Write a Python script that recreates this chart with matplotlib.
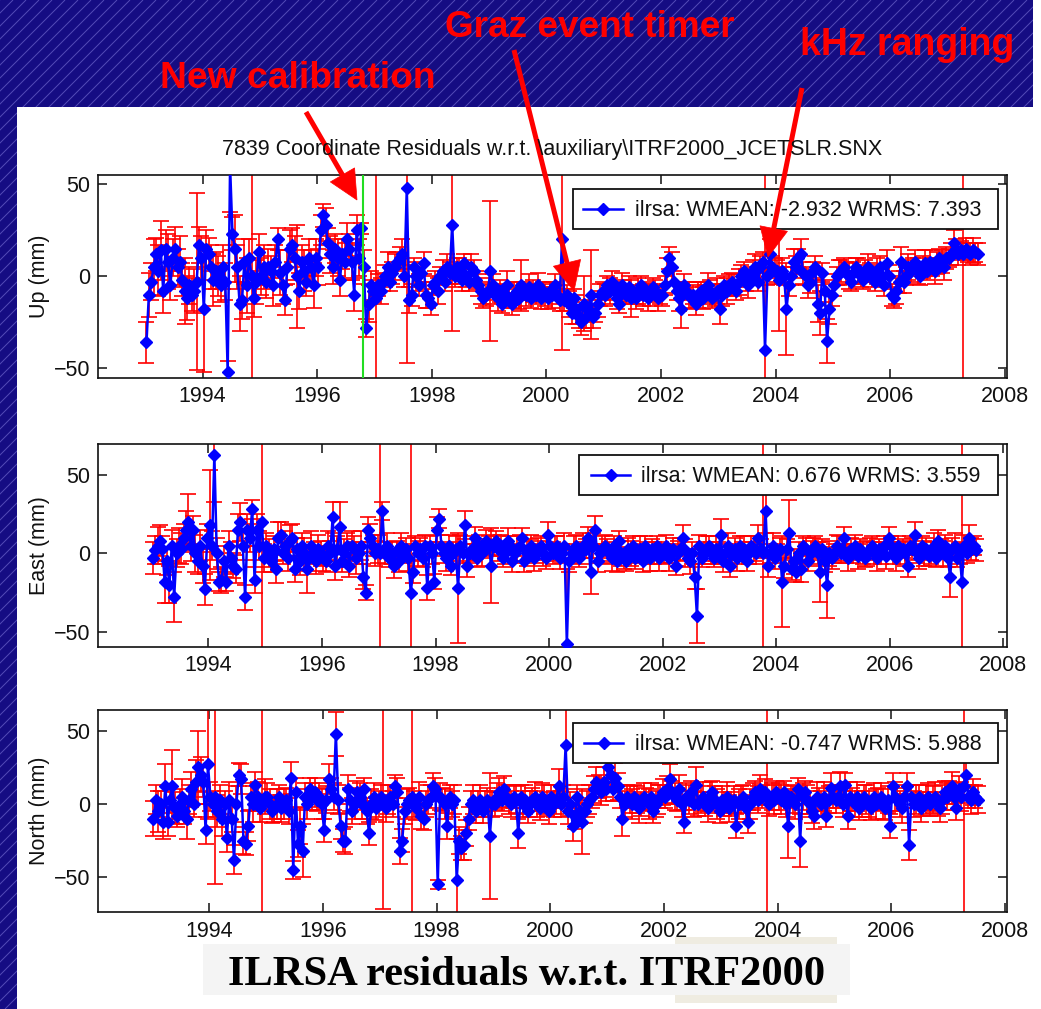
import numpy as np
import matplotlib
matplotlib.use('Agg')
import matplotlib.pyplot as plt
from matplotlib.collections import LineCollection
from matplotlib.patches import Rectangle, Polygon

plt.rcParams['font.family'] = ['Liberation Sans', 'DejaVu Sans']

W, H = 1041, 1009   # picture size in pixels, used for the overlay coordinates

# residuals (mm), sampled twice a month, one row per year
years = [1993, 1994, 1995, 1996, 1997, 1998, 1999, 2000, 2001, 2002, 2003, 2004, 2005, 2006, 2007]

up_vals = [
    [-36, -10, -3, 5, 12, 3, 14, -8, 15, 8, -5, 10, 15, 5, 8, -2, -8, -12, -5, -10, -8, -3, 17, 10],
    [-18, 15, 12, 5, -2, 3, 0, -5, 5, -3, -52, 60, 23, 15, 5, -15, -13, 8, -5, 10, 0, -12, -3, 13],
    [0, 5, -3, 5, 3, -5, 8, 20, 2, -5, -13, 5, 15, 17, 10, 0, -8, 8, 3, -3, 10, 5, -5, 10],
    [5, 25, 33, 28, 18, 12, 5, 15, 10, -2, 12, 8, 20, 15, 8, -10, 25, 10, 26, 5, -28, -15, -5, -8],
    [-12, -5, -8, -3, 0, 5, -3, 2, 5, 8, 10, 12, 0, 48, -13, -10, 5, 0, -5, 2, 7, -10, -12, -15],
    [-5, -3, -8, 0, 3, -3, 5, 2, 28, 0, 5, 3, -2, 7, 0, -3, 5, 3, -2, -5, -8, -12, -10, -8],
    [3, -5, -10, -12, -8, -15, -10, -5, -12, -15, -10, -8, -12, -5, -8, -10, -6, -12, -8, -10, -5, -12, -8, -10],
    [-12, -8, -10, -5, -10, -13, 20, -13, -10, -15, -20, -12, -18, -22, -25, -15, -22, -18, -10, -22, -20, -15, -10, -8],
    [-10, -5, -8, -3, -8, -12, -15, -5, -8, -10, -6, -12, -10, -12, -8, -5, -10, -8, -12, -10, -6, -8, -12, -10],
    [-10, -5, 3, 10, 5, -3, -8, -12, -18, -5, -8, -10, -12, -10, -15, -10, -8, -12, -10, -5, -8, -12, -10, -8],
    [-18, -10, -5, -8, -5, -3, -5, -8, -3, 0, 3, -2, -5, 0, 3, 5, -3, 5, 8, -40, 0, 12, 5, 3],
    [3, -2, 3, 0, -18, -5, 0, 8, 5, 10, 12, 2, 0, -5, -3, 3, 5, -15, -20, 2, -8, -35, -18, -10],
    [-5, 0, 2, 3, 5, 2, 0, -3, 2, 5, 3, 0, -2, 3, 5, 2, 0, -3, 3, 5, 0, -5, 7, 0],
    [-10, -12, -8, -3, 8, -3, 0, 5, 3, 5, 8, 3, 0, 5, 7, 3, 8, 5, 3, 7, 10, 8, 5, 10],
    [10, 12, 18, 15, 12, 14, 12, 15, 13, 12, 14, 13, 12],
]
up_errs = [
    [11, 12, 10, 15, 9, 14, 16, 12, 10, 15, 8, 10, 12, 10, 14, 9, 18, 12, 10, 9, 12, 48, 10, 12],
    [34, 10, 9, 12, 14, 10, 11, 9, 12, 10, 6, 25, 9, 18, 12, 15, 10, 12, 15, 10, 120, 10, 12, 10],
    [10, 12, 9, 10, 8, 11, 9, 6, 12, 10, 8, 9, 10, 9, 12, 28, 10, 9, 11, 8, 10, 9, 12, 10],
    [10, 8, 6, 9, 8, 10, 9, 8, 10, 9, 8, 10, 9, 8, 10, 9, 8, 10, 3, 9, 5, 10, 8, 6],
    [100, 6, 7, 5, 6, 8, 5, 6, 7, 5, 6, 8, 6, 95, 7, 6, 5, 8, 6, 5, 6, 7, 5, 6],
    [5, 6, 7, 5, 6, 5, 7, 6, 58, 6, 5, 7, 6, 5, 6, 5, 7, 6, 5, 6, 7, 5, 6, 5],
    [38, 6, 5, 7, 6, 5, 6, 8, 5, 6, 7, 5, 6, 14, 5, 6, 7, 5, 6, 5, 7, 6, 5, 6],
    [6, 5, 7, 6, 5, 6, 60, 6, 5, 7, 6, 5, 8, 6, 7, 15, 6, 5, 24, 6, 5, 7, 6, 5],
    [6, 5, 7, 6, 5, 6, 5, 7, 6, 5, 6, 10, 5, 6, 7, 5, 6, 5, 7, 6, 5, 6, 7, 5],
    [6, 5, 7, 6, 8, 6, 5, 7, 10, 6, 5, 7, 6, 5, 6, 7, 5, 6, 5, 7, 6, 5, 6, 7],
    [8, 6, 5, 7, 6, 5, 6, 5, 7, 6, 5, 6, 7, 5, 6, 7, 5, 6, 5, 100, 5, 8, 6, 7],
    [6, 28, 7, 5, 25, 6, 5, 7, 6, 5, 8, 6, 5, 7, 6, 5, 6, 10, 12, 5, 6, 12, 8, 6],
    [6, 5, 7, 6, 5, 6, 7, 5, 6, 5, 7, 6, 5, 6, 7, 5, 6, 5, 7, 6, 5, 6, 7, 6],
    [6, 5, 7, 6, 8, 6, 5, 7, 6, 5, 6, 7, 5, 6, 7, 5, 6, 5, 7, 6, 5, 6, 7, 6],
    [5, 6, 7, 5, 6, 5, 100, 6, 5, 6, 7, 5, 6],
]

east_vals = [
    [-3, 2, 5, 8, 3, -18, -5, -20, 5, -28, 0, 5, 3, 10, 15, 20, 5, 15, 0, -5, 5, -8, -23, 10],
    [18, 5, 63, 0, -18, -17, -5, -18, 5, -3, -8, -10, 15, 20, 5, -28, 15, 10, 28, -17, 15, 5, 20, -3],
    [5, 0, -5, 3, -10, 10, 12, 0, 5, -3, 8, 10, -10, 3, -5, 5, 0, -10, -3, 5, 0, -5, 3, 0],
    [-3, -5, 5, 0, 23, -8, 3, 17, -5, 0, 5, -8, 5, 3, -3, 0, 5, -15, -25, 15, 10, 5, 0, 3],
    [0, 27, 0, 5, -3, 0, -8, 2, -5, 5, 0, 3, -3, -25, -12, 5, 0, 3, -3, 5, -22, 5, 0, -18],
    [15, 22, 5, 0, -3, 5, -8, 0, 3, -22, 5, 0, 18, -8, 0, 3, 10, -3, 5, 0, 3, 8, 5, -8],
    [5, 8, 3, 5, -3, 0, 8, 5, -5, 0, 3, 5, 10, -5, 0, 3, 5, -3, 0, 3, 5, 0, -3, 12],
    [5, 0, 3, 5, -3, 0, 5, -58, -5, 0, 3, 5, -3, 0, 5, 3, 10, -12, 5, 15, -5, 0, 3, 5],
    [3, 0, -3, 5, -5, 8, 0, -3, -5, 3, 0, 5, -3, 0, 3, -5, 5, 0, -3, 3, 0, 5, -3, 0],
    [0, 5, -3, 0, 3, -8, 0, 3, 10, 2, -3, -5, 0, -15, -40, 5, -3, 0, 3, 5, 0, -3, 3, 0],
    [12, -5, 0, 5, -8, 0, 3, -3, 5, 0, 3, -5, 0, 5, 3, 0, 10, 3, 0, 27, -8, 0, 5, -3],
    [0, 3, -18, -8, 3, 13, -10, -5, -12, 0, -10, 5, 3, -5, 0, 3, 5, 0, -12, 3, -5, -20, 0, -3],
    [0, 5, 3, 0, 10, 0, -3, 3, 0, 5, -2, 3, 0, -3, 0, 3, 5, 0, -3, 3, 0, 5, -2, 10],
    [5, 0, -3, 5, 0, 3, 0, -8, 5, 3, 12, 0, -3, 5, 0, 3, -2, 0, 5, -3, 8, 3, 0, 5],
    [-3, -15, 3, 5, -3, 0, -18, 5, 0, 10, 3, 5, 2],
]
east_errs = [
    [10, 9, 12, 10, 8, 14, 9, 12, 10, 16, 9, 11, 10, 9, 12, 18, 10, 9, 12, 8, 10, 11, 10, 9],
    [35, 9, 30, 10, 6, 8, 10, 6, 9, 10, 8, 9, 10, 12, 9, 8, 10, 9, 6, 8, 10, 9, 100, 9],
    [8, 9, 7, 8, 9, 10, 8, 7, 9, 8, 10, 9, 8, 7, 9, 8, 10, 15, 8, 9, 7, 8, 9, 8],
    [8, 7, 9, 8, 10, 9, 8, 16, 7, 9, 8, 7, 9, 8, 10, 7, 9, 8, 5, 8, 9, 7, 8, 9],
    [100, 6, 7, 8, 6, 7, 8, 6, 7, 8, 6, 7, 8, 100, 7, 6, 8, 7, 6, 7, 8, 6, 7, 5],
    [8, 6, 7, 6, 8, 7, 6, 7, 8, 35, 7, 6, 9, 7, 6, 8, 7, 6, 7, 8, 6, 7, 6, 24],
    [7, 6, 8, 7, 6, 7, 8, 6, 7, 6, 8, 7, 6, 7, 8, 6, 7, 8, 6, 7, 6, 8, 7, 8],
    [6, 7, 8, 6, 7, 6, 8, 48, 7, 6, 8, 7, 6, 7, 8, 6, 7, 14, 8, 9, 7, 6, 8, 7],
    [6, 7, 8, 6, 7, 6, 8, 7, 6, 7, 8, 6, 7, 6, 8, 7, 6, 7, 8, 6, 7, 6, 8, 7],
    [6, 7, 8, 6, 7, 6, 8, 7, 8, 7, 6, 8, 7, 8, 17, 7, 6, 7, 8, 6, 7, 6, 8, 7],
    [10, 7, 6, 8, 7, 6, 7, 8, 6, 7, 8, 6, 7, 6, 8, 7, 8, 6, 100, 14, 7, 6, 8, 7],
    [6, 7, 29, 8, 6, 21, 7, 8, 6, 7, 8, 6, 7, 6, 8, 7, 6, 7, 19, 6, 7, 21, 8, 7],
    [6, 7, 8, 6, 7, 6, 8, 7, 6, 7, 8, 6, 7, 6, 8, 7, 6, 7, 8, 6, 7, 6, 8, 7],
    [6, 7, 8, 6, 7, 6, 8, 7, 6, 7, 8, 6, 7, 6, 8, 7, 6, 7, 8, 6, 7, 6, 8, 7],
    [6, 13, 7, 8, 6, 7, 100, 7, 6, 8, 7, 6, 7],
]

north_vals = [
    [-10, 3, -5, 0, -12, 12, -12, 3, 12, -3, -8, 0, 5, -5, -10, 3, 10, 0, 15, 25, 20, 15, -18, 27],
    [5, 0, 5, -5, 3, -10, 0, -23, 3, -10, -38, 0, 20, 17, -25, -27, -15, 5, 0, 13, 5, -3, 0, 5],
    [5, 0, -5, -3, 0, 5, -3, 0, 3, -5, 18, -45, 8, -27, -15, -32, 5, 0, 10, 5, 8, 3, 5, 0],
    [-18, 3, 17, 10, 5, 48, 3, -15, -25, -25, 10, 3, -5, 0, 8, 5, 0, 10, -5, -20, 0, 5, -3, 0],
    [5, 0, -3, 3, 5, 0, 12, 8, -32, -25, -5, 0, 3, 5, 0, -3, 5, -8, -10, 0, 3, 5, 12, 10],
    [-55, 5, 3, 0, -15, 5, 0, 3, -52, -25, -30, -28, -20, -10, 0, 3, -5, 0, 3, -5, 0, 3, -22, 0],
    [0, 5, 8, 3, 10, 5, 3, 0, 5, 3, -20, 5, 0, 3, -5, 0, 3, 5, 0, -3, 5, 3, 0, -5],
    [5, 0, 3, 12, 0, 5, 40, -5, 0, -15, -8, 5, -5, -12, -5, 0, 3, 5, 10, 15, 12, 8, 15, 10],
    [25, 20, 10, 18, 12, 5, -10, 0, 5, 3, 0, 5, 3, -3, 0, 5, 3, 0, 5, -5, 0, 3, 5, 8],
    [5, 10, 17, 8, 5, 3, 10, 0, -12, 5, 3, 8, 0, 13, 0, 3, 5, 0, -3, 5, 8, 3, 0, -5],
    [3, 0, 5, -3, 0, 3, -15, 0, 3, 5, -3, -12, 0, 5, 8, 3, 10, 5, 8, 5, 0, 5, 3, 8],
    [5, 3, 8, 0, -15, 5, 3, 0, 10, -25, 5, 8, 3, 0, -5, -8, 5, 3, 0, 5, -8, 3, 11, 5],
    [3, 5, 12, 0, 13, -8, 5, 3, 0, 5, -3, 0, 5, 3, 0, -3, 5, 0, 3, 5, 0, -3, 3, -15],
    [12, 5, 3, 0, -3, 5, 12, -28, 5, 0, 3, 5, -3, 0, 3, 5, 0, 3, 5, 0, -3, 3, 8, 5],
    [8, 12, 5, -3, 10, 5, 12, 20, 5, 3, 8, 5, 3],
]
north_errs = [
    [12, 10, 14, 9, 12, 15, 10, 9, 25, 11, 8, 10, 12, 9, 14, 10, 12, 9, 15, 25, 12, 10, 9, 37],
    [10, 9, 60, 11, 10, 12, 9, 10, 12, 9, 10, 12, 8, 10, 9, 8, 10, 9, 12, 9, 10, 9, 100, 12],
    [9, 10, 8, 9, 10, 8, 9, 10, 8, 9, 11, 6, 10, 9, 12, 18, 9, 10, 8, 9, 10, 8, 9, 10],
    [8, 9, 10, 8, 9, 15, 10, 9, 8, 9, 10, 8, 9, 10, 8, 9, 10, 8, 9, 8, 10, 9, 8, 9],
    [8, 72, 9, 10, 8, 9, 8, 10, 9, 8, 9, 10, 8, 100, 9, 8, 10, 9, 8, 9, 10, 8, 9, 8],
    [3, 9, 8, 10, 9, 8, 9, 10, 28, 9, 8, 10, 9, 8, 9, 10, 8, 9, 10, 8, 9, 8, 43, 9],
    [8, 9, 10, 8, 9, 8, 10, 9, 8, 9, 10, 8, 9, 10, 8, 9, 8, 10, 9, 8, 9, 10, 8, 9],
    [8, 9, 10, 12, 9, 8, 30, 9, 8, 10, 9, 8, 9, 22, 8, 9, 10, 8, 9, 10, 8, 9, 10, 8],
    [12, 9, 8, 10, 9, 8, 12, 9, 8, 9, 10, 8, 9, 10, 8, 9, 8, 10, 9, 8, 9, 10, 8, 9],
    [8, 9, 10, 8, 9, 8, 10, 9, 8, 9, 10, 8, 9, 12, 8, 9, 10, 8, 9, 10, 8, 9, 10, 8],
    [9, 8, 10, 9, 8, 9, 8, 10, 9, 8, 9, 8, 10, 9, 8, 9, 10, 8, 9, 100, 8, 9, 10, 8],
    [9, 10, 8, 9, 22, 8, 9, 10, 8, 18, 9, 8, 10, 9, 8, 9, 10, 8, 9, 10, 8, 9, 10, 8],
    [9, 8, 10, 9, 8, 9, 10, 8, 9, 10, 8, 9, 8, 10, 9, 8, 9, 10, 8, 9, 10, 8, 9, 8],
    [9, 10, 8, 9, 10, 8, 9, 10, 8, 9, 10, 8, 9, 8, 10, 9, 8, 9, 10, 8, 9, 10, 8, 9],
    [8, 10, 9, 8, 9, 10, 100, 9, 8, 10, 9, 8, 9],
]

ylabels = ['Up (mm)', 'East (mm)', 'North (mm)']
legend_labels = ['ilrsa: WMEAN: -2.932 WRMS: 7.393',
                 'ilrsa: WMEAN: 0.676 WRMS: 3.559',
                 'ilrsa: WMEAN: -0.747 WRMS: 5.988']
title = r'7839 Coordinate Residuals w.r.t. \auxiliary\ITRF2000_JCETSLR.SNX'
new_calibration = 1996.80
xticks = [1994, 1996, 1998, 2000, 2002, 2004, 2006, 2008]


def sample_times(rows):
    t = []
    for y, row in zip(years, rows):
        t += [y + (i + 0.5) / 24 for i in range(len(row))]
    return np.array(t)


def flat(rows):
    return np.array([v for row in rows for v in row], dtype=float)


fig = plt.figure(figsize=(W / 100, H / 100), dpi=100)
FS = 15.5

# slide background: dark blue with thin diagonal hatching, white panel on top
bg = fig.add_axes([0, 0, 1, 1], zorder=-10)
bg.set_xlim(0, W)
bg.set_ylim(H, 0)
bg.axis('off')
blue = Rectangle((0, 0), 1033, H, fc='#150c83', ec='none', zorder=0)
bg.add_patch(blue)
segs = [[(c, H), (c + H, 0)] for c in range(-H, W, 13)]
hatch = LineCollection(segs, colors='#544cb8', linewidths=0.7, zorder=1)
bg.add_collection(hatch)
hatch.set_clip_path(blue)
bg.add_patch(Rectangle((17, 107), W - 17, H - 107, fc='white', ec='none', zorder=2))

# axes boxes in pixels: left, top, right, bottom
boxes = [(98.3, 175, 1007.3, 378), (98.3, 444, 1007.3, 646.7), (98.3, 710, 1007.3, 912.3)]
ylims = [(-55.3, 55), (-59.6, 69.8), (-74, 64.2)]
xlims = [(1992.18, 2008.04), (1992.06, 2008.07), (1992.05, 2008.04)]
series = [(up_vals, up_errs), (east_vals, east_errs), (north_vals, north_errs)]

for k, (vals, errs) in enumerate(series):
    x0, y0, x1, y1 = boxes[k]
    ax = fig.add_axes([x0 / W, 1 - y1 / H, (x1 - x0) / W, (y1 - y0) / H])
    t = sample_times(vals)
    v = flat(vals)
    e = flat(errs)
    ax.errorbar(t, v, yerr=e, fmt='none', ecolor='#ff0000', elinewidth=1.2,
                capsize=6, capthick=1.2, zorder=2)
    ax.plot(t, v, '-', color='#0000ff', lw=1.8, marker='D', ms=6,
            mfc='#0000ff', mec='#0000ff', zorder=3)
    if k == 0:
        ax.axvline(new_calibration, color='#22dd22', lw=1.5, zorder=4)
    ax.set_xlim(*xlims[k])
    ax.set_ylim(*ylims[k])
    ax.set_xticks(xticks)
    ax.set_yticks([-50, 0, 50])
    ax.tick_params(direction='in', length=6.5, width=1.1, top=True, right=True,
                   labelsize=FS, colors='#111111')
    ax.tick_params(axis='x', pad=6)
    ax.tick_params(axis='y', pad=6)
    for s in ax.spines.values():
        s.set_linewidth(1.2)
        s.set_color('#111111')

# overlay in picture pixels: titles, legends, annotations
ov = fig.add_axes([0, 0, 1, 1], zorder=10)
ov.set_xlim(0, W)
ov.set_ylim(H, 0)
ov.axis('off')
ov.patch.set_alpha(0)

ov.text(552, 155, title, ha='center', va='baseline', fontsize=FS, color='#111111')

for k, lab in enumerate(ylabels):
    x0, y0, x1, y1 = boxes[k]
    ov.text(40, (y0 + y1) / 2, lab, rotation=90, ha='center', va='center',
            fontsize=FS, color='#111111')

legend_boxes = [(573.3, 189, 997.7, 229.3), (579.3, 455, 997.7, 495), (573.3, 723.3, 997.7, 763.3)]
legend_handles = [(583, 623, 635), (591, 630, 641), (584, 623, 635)]
for (lx0, ly0, lx1, ly1), (hx0, hx1, tx), lab in zip(legend_boxes, legend_handles, legend_labels):
    ov.add_patch(Rectangle((lx0, ly0), lx1 - lx0, ly1 - ly0, fc='white', ec='#111111', lw=1.3))
    yc = (ly0 + ly1) / 2
    ov.plot([hx0, hx1], [yc, yc], color='#0000ff', lw=1.8)
    ov.plot([(hx0 + hx1) / 2], [yc], marker='D', ms=6, color='#0000ff')
    ov.text(tx, yc + 1, lab, ha='left', va='center', fontsize=FS, color='#111111')

# red slide annotations
red = '#ff0000'
ov.text(160, 88, 'New calibration', ha='left', va='baseline', fontsize=26.8,
        family='Liberation Sans', weight='bold', color=red)
ov.text(445, 37, 'Graz event timer', ha='left', va='baseline', fontsize=26.6,
        family='Liberation Sans', weight='bold', color=red)
ov.text(800, 55, 'kHz ranging', ha='left', va='baseline', fontsize=27,
        family='Liberation Sans', weight='bold', color=red)

arrows = [((306, 112), (357, 200)), ((514, 50), (574, 291)), ((802, 88), (768, 257))]
for (ax0, ay0), (ax1, ay1) in arrows:
    d = np.array([ax1 - ax0, ay1 - ay0], dtype=float)
    u = d / np.hypot(*d)
    n = np.array([-u[1], u[0]])
    base = np.array([ax1, ay1]) - u * 29
    ov.plot([ax0, base[0] + u[0] * 3], [ay0, base[1] + u[1] * 3], color=red,
            lw=3.6, solid_capstyle='butt')
    ov.add_patch(Polygon([(ax1, ay1), base + n * 14, base - n * 14], closed=True,
                         fc=red, ec=red, lw=0.5))

# caption boxes at the bottom of the slide
ov.add_patch(Rectangle((675, 937), 162, 66, fc='#efece1', ec='none'))
ov.add_patch(Rectangle((203, 944), 647, 51, fc='#f4f4f4', ec='none'))
ov.text(527, 985, 'ILRSA residuals w.r.t. ITRF2000', ha='center', va='baseline',
        fontsize=30.6, family='Liberation Serif', weight='bold', color='black')

fig.savefig('out.png', dpi=100)
